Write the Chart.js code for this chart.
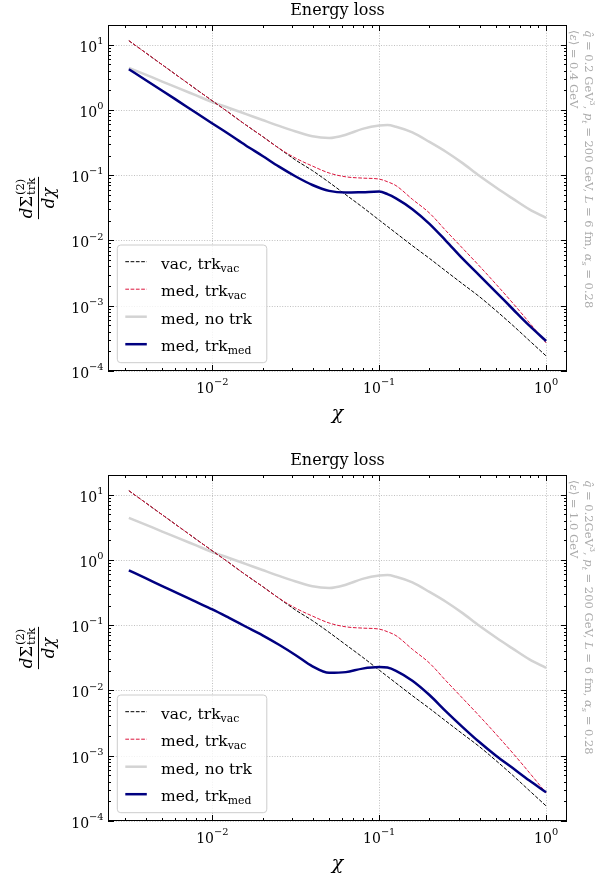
<!DOCTYPE html>
<html>
<head>
<meta charset="utf-8">
<script src="https://cdn.jsdelivr.net/npm/chart.js@4.4.0/dist/chart.umd.min.js"></script>
<style>
  html, body { margin: 0; padding: 0; background: #fff; }
  body { width: 608px; height: 881px; position: relative; overflow: hidden; }
  canvas { position: absolute; left: 0; }
  #chartTop { top: 0; }
  #chartBottom { top: 450px; }
</style>
</head>
<body>
<canvas id="chartTop" width="608" height="431"></canvas>
<canvas id="chartBottom" width="608" height="431"></canvas>
<script>
// values
const chi = [0.00316, 0.00398, 0.00501, 0.00631, 0.00794, 0.0100, 0.0126, 0.0158, 0.0200, 0.0251,
             0.0316, 0.0398, 0.0501, 0.0631, 0.0794, 0.100, 0.112, 0.126, 0.158, 0.200,
             0.251, 0.316, 0.398, 0.501, 0.631, 0.794, 1.00];

const vacTrkVac = [11.5, 7.52, 4.91, 3.21, 2.10, 1.377, 0.904, 0.594, 0.391, 0.258,
                   0.170, 0.1175, 0.0776, 0.0501, 0.0324, 0.0205, 0.0164, 0.0130, 0.00832, 0.00531,
                   0.00339, 0.00216, 0.00138, 0.000841, 0.000501, 0.000292, 0.000170];

const medTrkVac = [11.5, 7.52, 4.91, 3.21, 2.10, 1.377, 0.904, 0.594, 0.391, 0.258,
                   0.182, 0.138, 0.108, 0.0944, 0.0902, 0.0871, 0.0794, 0.0692, 0.0427, 0.0263,
                   0.0141, 0.00759, 0.00407, 0.00214, 0.00110, 0.00055, 0.000269];

const medNoTrk = [4.42, 3.47, 2.72, 2.14, 1.68, 1.318, 1.072, 0.871, 0.700, 0.569,
                  0.468, 0.394, 0.372, 0.417, 0.513, 0.579, 0.586, 0.552, 0.452, 0.324,
                  0.229, 0.153, 0.0977, 0.0646, 0.0437, 0.0299, 0.0221];

// <eps> = 0.4 GeV
const medTrkMedA = [4.20, 2.88, 1.97, 1.34, 0.912, 0.621, 0.424, 0.288, 0.197, 0.135,
                    0.0955, 0.0708, 0.0575, 0.0543, 0.0550, 0.0560, 0.0513, 0.0442, 0.0302, 0.0180,
                    0.00989, 0.00525, 0.00292, 0.00162, 0.000891, 0.000495, 0.000288];

// <eps> = 1.0 GeV
const medTrkMedB = [0.692, 0.525, 0.398, 0.302, 0.229, 0.174, 0.129, 0.0955, 0.0700, 0.0501,
                    0.0347, 0.0234, 0.0186, 0.0191, 0.0216, 0.0228, 0.0224, 0.0200, 0.0141, 0.00851,
                    0.00479, 0.00275, 0.00162, 0.00100, 0.000646, 0.000417, 0.000275];

const legendLabels = ['vac, trk_{vac}', 'med, trk_{vac}', 'med, no trk', 'med, trk_{med}'];
const xTicks = [0.01, 0.1, 1];
const xTickLabels = ['10^{\u22122}', '10^{\u22121}', '10^{0}'];
const yTicks = [1e-4, 1e-3, 1e-2, 1e-1, 1, 10];
const yTickLabels = ['10^{\u22124}', '10^{\u22123}', '10^{\u22122}', '10^{\u22121}', '10^{0}', '10^{1}'];
const xMin = 0.00237, xMax = 1.334, yMin = 1e-4, yMax = 20;
const titleText = 'Energy loss';
const xTitle = '\u03c7';
const paramTop = '*q\u0302* = 0.2 GeV^{3}, *p*_{*t*} = 200 GeV, *L* = 6 fm, *\u03b1*_{*s*} = 0.28';
const paramBottom = '*q\u0302* = 0.2GeV^{3}, *p*_{*t*} = 200 GeV, *L* = 6 fm, *\u03b1*_{*s*} = 0.28';
const epsTop = '\u27e8*\u03b5*\u27e9 = 0.4 GeV';
const epsBottom = '\u27e8*\u03b5*\u27e9 = 1.0 GeV';

// line styles
const lineColors = ['#000000', '#dc143c', '#d3d3d3', '#000080'];
const lineWidths = [1, 1, 2.5, 2.5];
const lineDashes = [[3.7, 1.6], [3.7, 1.6], [], []];
const drawOrder = [2, 1, 3, 0];

const serif = '"DejaVu Serif", serif';

function parseRich(str) {
  const segs = [];
  const stack = ['n'];
  let italic = false, buf = '', i = 0;
  const push = () => {
    if (buf) { segs.push({ t: buf, it: italic, lv: stack[stack.length - 1] }); buf = ''; }
  };
  while (i < str.length) {
    const c = str[i];
    if (c === '*') { push(); italic = !italic; i++; }
    else if ((c === '_' || c === '^') && str[i + 1] === '{') { push(); stack.push(c === '_' ? 'sub' : 'sup'); i += 2; }
    else if (c === '}' && stack.length > 1) { push(); stack.pop(); i++; }
    else { buf += c; i++; }
  }
  push();
  return segs;
}

function drawRich(ctx, str, x, y, size, align, supRaise) {
  const segs = parseRich(str);
  const raise = supRaise || 0.45;
  const fontFor = s => (s.it ? 'italic ' : '') + (s.lv === 'n' ? size : size * 0.7) + 'px ' + serif;
  let w = 0;
  segs.forEach(s => { ctx.font = fontFor(s); s.w = ctx.measureText(s.t).width; w += s.w; });
  let cx = align === 'center' ? x - w / 2 : align === 'right' ? x - w : x;
  ctx.textAlign = 'left';
  ctx.textBaseline = 'alphabetic';
  segs.forEach(s => {
    ctx.font = fontFor(s);
    const dy = s.lv === 'sub' ? size * 0.22 : s.lv === 'sup' ? -size * raise : 0;
    ctx.fillText(s.t, cx, y + dy);
    cx += s.w;
  });
  return w;
}

function minorTicks(lo, hi) {
  const out = [];
  for (let e = Math.floor(Math.log10(lo)); e <= Math.ceil(Math.log10(hi)); e++) {
    for (let m = 2; m <= 9; m++) {
      const v = m * Math.pow(10, e);
      if (v >= lo && v <= hi) out.push(v);
    }
  }
  return out;
}

function drawYLabel(ctx, cx, cy) {
  ctx.save();
  ctx.translate(cx, cy);
  ctx.rotate(-Math.PI / 2);
  ctx.fillStyle = '#000';
  ctx.textAlign = 'left';
  ctx.textBaseline = 'alphabetic';
  const fs = 16.5, ss = 11.5;
  ctx.font = 'italic ' + fs + 'px ' + serif;
  const wd = ctx.measureText('d').width;
  ctx.font = fs + 'px ' + serif;
  const wS = ctx.measureText('\u03a3').width;
  ctx.font = ss + 'px ' + serif;
  const wSup = ctx.measureText('(2)').width, wSub = ctx.measureText('trk').width;
  const wNum = wd + wS + 1 + Math.max(wSup, wSub);
  const x0 = -wNum / 2, yb = -7;
  ctx.font = 'italic ' + fs + 'px ' + serif;
  ctx.fillText('d', x0, yb);
  ctx.font = fs + 'px ' + serif;
  ctx.fillText('\u03a3', x0 + wd, yb);
  ctx.font = ss + 'px ' + serif;
  ctx.fillText('(2)', x0 + wd + wS + 1, yb - 8);
  ctx.fillText('trk', x0 + wd + wS + 1, yb + 3.5);
  ctx.fillRect(-wNum / 2 - 1, -0.5, wNum + 2, 1);
  ctx.font = 'italic ' + fs + 'px ' + serif;
  const wDen = ctx.measureText('d\u03c7').width;
  ctx.fillText('d\u03c7', -wDen / 2, 15.5);
  ctx.restore();
}

const mplDecor = {
  id: 'mplDecor',
  beforeDatasetsDraw(chart) {
    const { ctx, chartArea: a } = chart;
    const xs = chart.scales.x, ys = chart.scales.y;
    ctx.save();
    ctx.strokeStyle = '#b0b0b0';
    ctx.lineWidth = 0.8;
    ctx.setLineDash([1, 1.6]);
    xTicks.forEach(v => {
      const px = Math.round(xs.getPixelForValue(v)) + 0.5;
      ctx.beginPath(); ctx.moveTo(px, a.top); ctx.lineTo(px, a.bottom); ctx.stroke();
    });
    yTicks.forEach(v => {
      const py = Math.round(ys.getPixelForValue(v)) + 0.5;
      ctx.beginPath(); ctx.moveTo(a.left, py); ctx.lineTo(a.right, py); ctx.stroke();
    });
    ctx.restore();
  },
  afterDraw(chart, args, opts) {
    const { ctx, chartArea: a } = chart;
    const xs = chart.scales.x, ys = chart.scales.y;
    ctx.save();

    // legend
    const boxL = a.left + 9.3, boxB = a.bottom - 8.3, boxW = 149.5, boxH = 117.7;
    const boxT = boxB - boxH;
    ctx.beginPath();
    ctx.roundRect(boxL, boxT, boxW, boxH, 3.5);
    ctx.fillStyle = 'rgba(255,255,255,0.8)';
    ctx.fill();
    ctx.strokeStyle = '#cccccc';
    ctx.lineWidth = 1;
    ctx.stroke();
    chart.data.datasets.forEach((ds, i) => {
      const hy = boxT + 16.7 + i * 27.5;
      ctx.save();
      ctx.strokeStyle = ds.borderColor;
      ctx.lineWidth = ds.borderWidth;
      ctx.setLineDash(ds.borderDash || []);
      ctx.beginPath(); ctx.moveTo(boxL + 8, hy); ctx.lineTo(boxL + 29.5, hy); ctx.stroke();
      ctx.restore();
      ctx.fillStyle = '#000';
      drawRich(ctx, ds.label, boxL + 43.7, hy + 6.8, 15.5, 'left');
    });

    // frame
    ctx.strokeStyle = '#000';
    ctx.lineWidth = 1;
    ctx.setLineDash([]);
    ctx.strokeRect(a.left + 0.5, a.top + 0.5, a.right - a.left - 1, a.bottom - a.top - 1);

    // inward ticks on all four sides
    const tick = (x1, y1, x2, y2) => { ctx.beginPath(); ctx.moveTo(x1, y1); ctx.lineTo(x2, y2); ctx.stroke(); };
    const xMinor = minorTicks(xMin, xMax), yMinor = minorTicks(yMin, yMax);
    [[xTicks, 6], [xMinor, 3]].forEach(([vals, len]) => vals.forEach(v => {
      const px = Math.round(xs.getPixelForValue(v)) + 0.5;
      tick(px, a.bottom, px, a.bottom - len);
      tick(px, a.top, px, a.top + len);
    }));
    [[yTicks, 6], [yMinor, 3]].forEach(([vals, len]) => vals.forEach(v => {
      const py = Math.round(ys.getPixelForValue(v)) + 0.5;
      tick(a.left, py, a.left + len, py);
      tick(a.right, py, a.right - len, py);
    }));

    // tick labels
    ctx.fillStyle = '#000';
    xTicks.forEach((v, i) => drawRich(ctx, xTickLabels[i], xs.getPixelForValue(v), a.bottom + 22, 14, 'center', 0.55));
    yTicks.forEach((v, i) => drawRich(ctx, yTickLabels[i], a.left - 4.5, ys.getPixelForValue(v) + 7, 14, 'right', 0.55));

    // title and axis labels
    const mid = (a.left + a.right) / 2;
    ctx.font = '16px ' + serif;
    ctx.textAlign = 'center';
    ctx.textBaseline = 'alphabetic';
    ctx.fillText(titleText, mid, a.top - 10);
    ctx.font = 'italic 19px ' + serif;
    ctx.fillText(xTitle, mid, a.bottom + 48);
    drawYLabel(ctx, 38.5, (a.top + a.bottom) / 2);

    // parameter text, rotated
    ctx.fillStyle = '#ababab';
    ctx.save();
    ctx.translate(a.right + 17.5, a.top + 5);
    ctx.rotate(Math.PI / 2);
    drawRich(ctx, opts.params, 0, 0, 11.5, 'left');
    ctx.restore();
    ctx.save();
    ctx.translate(a.right + 2.5, a.top + 5);
    ctx.rotate(Math.PI / 2);
    drawRich(ctx, opts.eps, 0, 0, 11.5, 'left');
    ctx.restore();

    ctx.restore();
  }
};

function makeChart(id, medTrk, params, eps) {
  const series = [vacTrkVac, medTrkVac, medNoTrk, medTrk];
  const datasets = series.map((s, i) => ({
    label: legendLabels[i],
    data: chi.map((x, j) => ({ x: x, y: s[j] })),
    borderColor: lineColors[i],
    borderWidth: lineWidths[i],
    borderDash: lineDashes[i],
    order: drawOrder[i],
    pointRadius: 0,
    fill: false,
    cubicInterpolationMode: 'monotone',
    borderCapStyle: 'butt',
    borderJoinStyle: 'round'
  }));
  return new Chart(document.getElementById(id), {
    type: 'line',
    data: { datasets: datasets },
    options: {
      responsive: false,
      animation: false,
      devicePixelRatio: 1,
      layout: { padding: { left: 108, right: 41, top: 25, bottom: 60 } },
      scales: {
        x: { type: 'logarithmic', min: xMin, max: xMax, display: false },
        y: { type: 'logarithmic', min: yMin, max: yMax, display: false }
      },
      plugins: {
        legend: { display: false },
        tooltip: { enabled: false },
        mplDecor: { params: params, eps: eps }
      }
    },
    plugins: [mplDecor]
  });
}

var chartTop = makeChart('chartTop', medTrkMedA, paramTop, epsTop);
var chartBottom = makeChart('chartBottom', medTrkMedB, paramBottom, epsBottom);
</script>
</body>
</html>
